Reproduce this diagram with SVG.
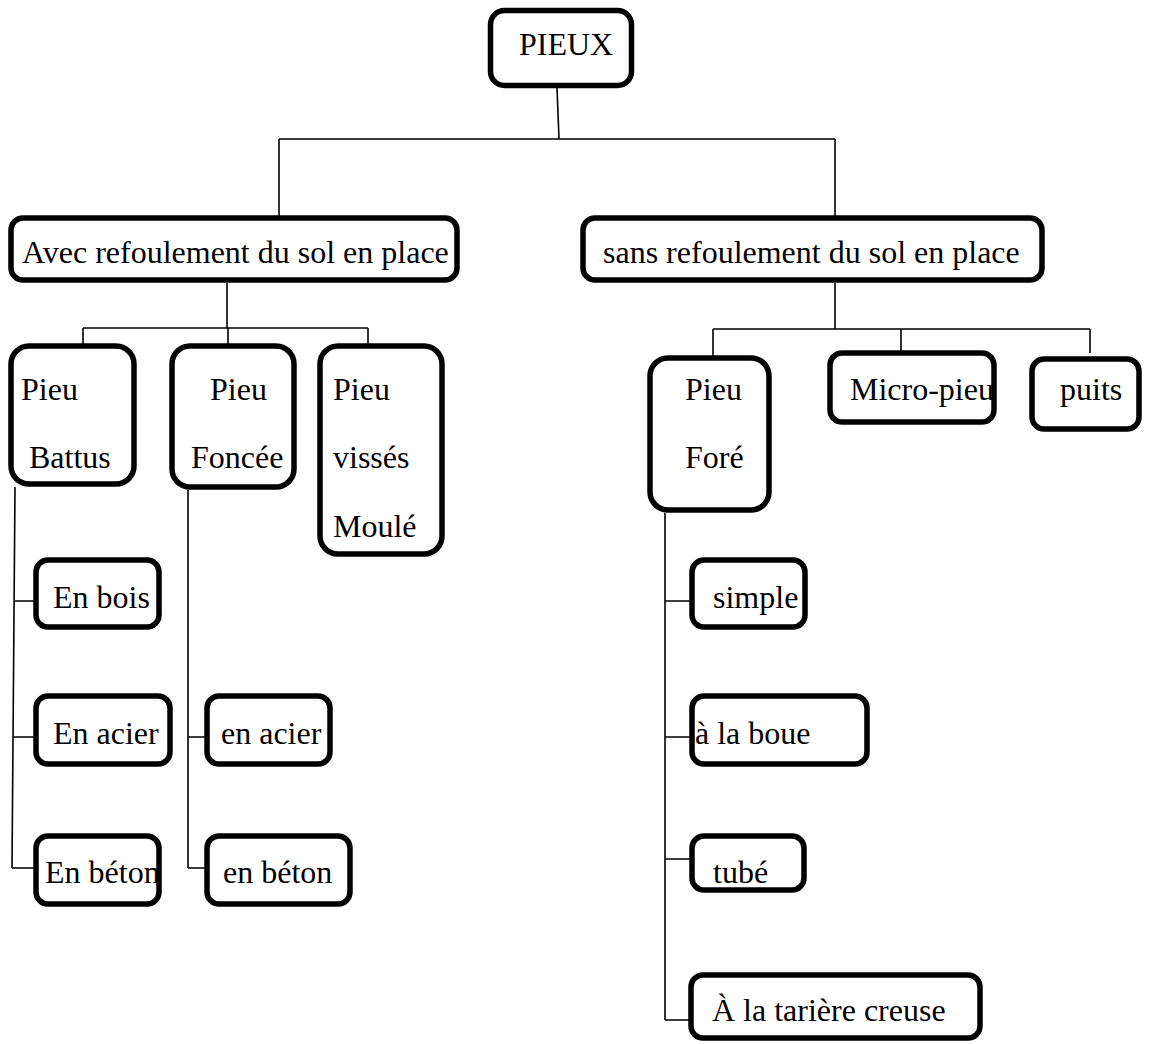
<svg xmlns="http://www.w3.org/2000/svg" width="1158" height="1044" viewBox="0 0 1158 1044">
<style>
.box{fill:#fff;stroke:#000;stroke-width:5.5}
.t{font-family:"Liberation Serif","Times New Roman",serif;font-size:32px;fill:#000}
.c{stroke:#000;stroke-width:1.6;fill:none}
</style>
<rect width="1158" height="1044" fill="#fff"/>
<g id="connectors" class="c">
<path d="M557,88 L559,139 M279,139 L835,139 M279,139 V216 M835,139 V216"/>
<path d="M227,283 V328 M83,328 H368 M83,328 V346 M228,328 V346 M368,328 V346"/>
<path d="M835,283 V329 M713,329 H1090 M713,329 V356 M901,329 V351 M1090,329 V353"/>
<path d="M15,487 L12,868 M15,601 H34 M13,737 H34 M12,868 H34"/>
<path d="M188,490 V868 M188,737 H205 M188,868 H205"/>
<path d="M665,513 V1020 M665,601 H690 M665,737 H690 M665,859 H690 M665,1020 H690"/>
</g>
<g id="n-pieux"><rect class="box" x="490.5" y="10.5" width="141" height="75" rx="14"/><text class="t" x="519" y="55">PIEUX</text></g>
<g id="n-avec"><rect class="box" x="11" y="218" width="446" height="62" rx="12"/><text class="t" x="22" y="263">Avec refoulement du sol en place</text></g>
<g id="n-sans"><rect class="box" x="583" y="218" width="459" height="62" rx="12"/><text class="t" x="603" y="263">sans refoulement du sol en place</text></g>
<g id="n-battus"><rect class="box" x="11" y="346" width="123" height="138" rx="18"/><text class="t" x="21" y="400">Pieu</text><text class="t" x="29" y="468">Battus</text></g>
<g id="n-foncee"><rect class="box" x="172" y="346" width="122" height="141" rx="18"/><text class="t" x="210" y="400">Pieu</text><text class="t" x="191" y="468">Foncée</text></g>
<g id="n-visses"><rect class="box" x="320" y="346" width="122" height="208" rx="18"/><text class="t" x="333" y="400">Pieu</text><text class="t" x="333" y="468">vissés</text><text class="t" x="333" y="537">Moulé</text></g>
<g id="n-bois"><rect class="box" x="36" y="560" width="123" height="67" rx="12"/><text class="t" x="53" y="608">En bois</text></g>
<g id="n-acier1"><rect class="box" x="36" y="696" width="134" height="68" rx="12"/><text class="t" x="53" y="744">En acier</text></g>
<g id="n-beton1"><rect class="box" x="36" y="836" width="123" height="68" rx="12"/><text class="t" x="45" y="883">En béton</text></g>
<g id="n-acier2"><rect class="box" x="207" y="696" width="123" height="68" rx="12"/><text class="t" x="221" y="744">en acier</text></g>
<g id="n-beton2"><rect class="box" x="207" y="836" width="143" height="68" rx="12"/><text class="t" x="223" y="883">en béton</text></g>
<g id="n-fore"><rect class="box" x="650" y="358" width="119" height="152" rx="18"/><text class="t" x="685" y="400">Pieu</text><text class="t" x="685" y="468">Foré</text></g>
<g id="n-micro"><rect class="box" x="830" y="353" width="164" height="69" rx="12"/><text class="t" x="850" y="400">Micro-pieu</text></g>
<g id="n-puits"><rect class="box" x="1032" y="359" width="107" height="70" rx="12"/><text class="t" x="1060" y="400">puits</text></g>
<g id="n-simple"><rect class="box" x="692" y="560" width="113" height="67" rx="12"/><text class="t" x="713" y="608">simple</text></g>
<g id="n-boue"><rect class="box" x="692" y="696" width="175" height="68" rx="12"/><text class="t" x="695" y="744">à la boue</text></g>
<g id="n-tube"><rect class="box" x="692" y="836" width="112" height="54" rx="12"/><text class="t" x="713" y="883">tubé</text></g>
<g id="n-tariere"><rect class="box" x="691" y="975" width="289" height="63" rx="12"/><text class="t" x="712" y="1021">À la tarière creuse</text></g>
</svg>
